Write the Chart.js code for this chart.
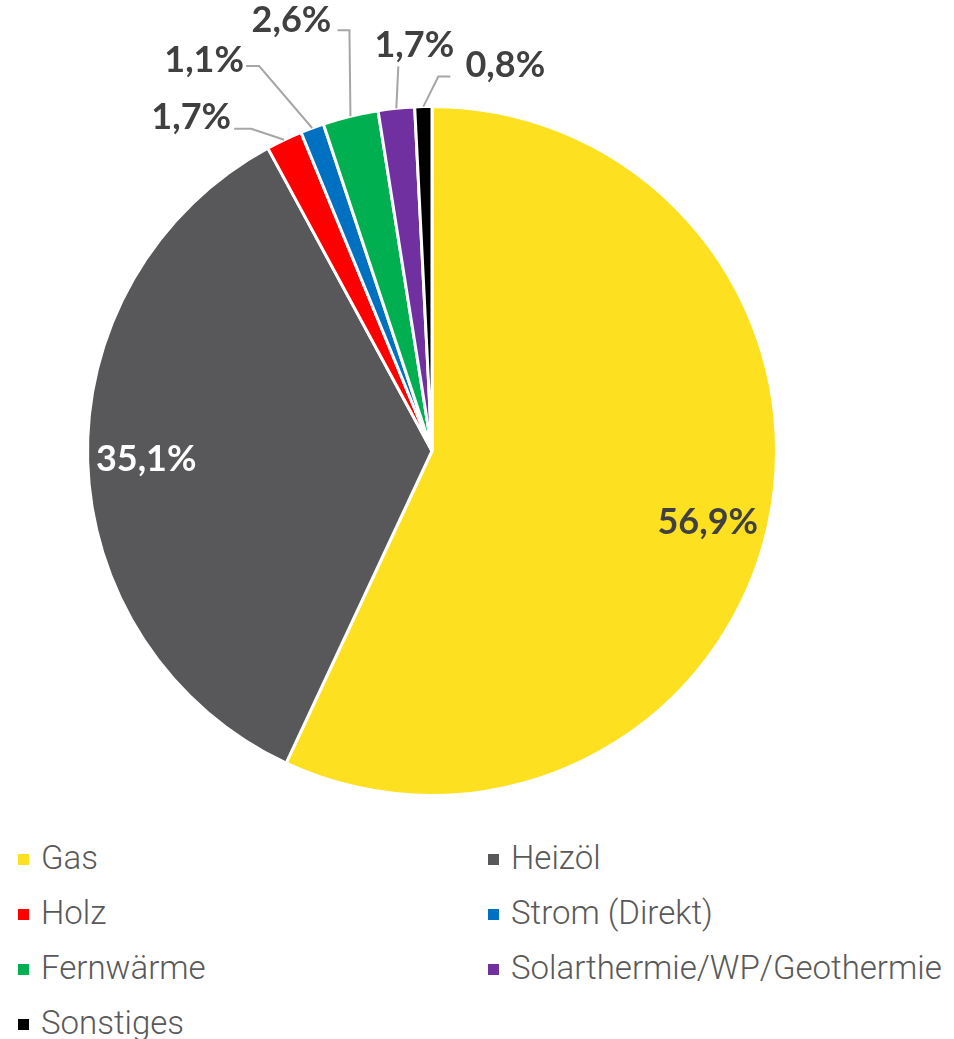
<!DOCTYPE html>
<html>
<head>
<meta charset="utf-8">
<script src="https://cdn.jsdelivr.net/npm/chart.js@4"></script>
<style>
  body { margin: 0; background: #fff; }
  #chart-box { position: absolute; left: 0; top: 0; width: 954px; height: 830px; }
  #legend { position: absolute; left: 0; top: 836px; width: 954px; font-family: "Roboto", sans-serif; font-weight: 300; font-size: 33px; color: #595959; }
  .item { position: absolute; height: 44px; line-height: 44px; white-space: nowrap; }
  .item span.box { display: inline-block; width: 11px; height: 11px; margin-right: 12px; vertical-align: middle; position: relative; top: -1px; }
</style>
</head>
<body>
<div id="chart-box"><canvas id="pie"></canvas></div>
<div id="legend"></div>
<script>
'use strict';

var categories = ['Gas', 'Heizöl', 'Holz', 'Strom (Direkt)', 'Fernwärme', 'Solarthermie/WP/Geothermie', 'Sonstiges'];
var shares = [56.9, 35.1, 1.7, 1.1, 2.6, 1.7, 0.8];
var sliceColors = ['#FDE01F', '#58585A', '#FF0000', '#0070C0', '#00B050', '#7030A0', '#000000'];

// where each value label goes: inside the slice or outside with a leader line
var labelPlacement = [
  { inside: true, frac: 0.82, dy: 10, color: '#404040' },
  { inside: true, frac: 0.83, dy: 0, color: '#ffffff' },
  { dx: -93, dy: -22, elbow: [-33, -11], end: [-50, -11] },
  { dx: -108, dy: -68, elbow: [-53, -62], end: [-66, -62] },
  { dx: -59, dy: -96, elbow: [-1, -86], end: [-13, -86] },
  { dx: 18, dy: -63, elbow: [2, -42], end: [2, -42] },
  { dx: 82, dy: -41, elbow: [15, -30], end: [27, -30] }
];

function formatShare(v) {
  return v.toFixed(1).replace('.', ',') + '%';
}

var pieLabels = {
  id: 'pieLabels',
  afterDatasetsDraw: function(chart) {
    var ctx = chart.ctx;
    var arcs = chart.getDatasetMeta(0).data;
    ctx.save();
    ctx.font = 'bold 36px Lato, "Noto Sans", sans-serif';
    ctx.textAlign = 'center';
    ctx.textBaseline = 'middle';
    for (var i = 0; i < arcs.length; i++) {
      var arc = arcs[i];
      var p = labelPlacement[i];
      var mid = (arc.startAngle + arc.endAngle) / 2;
      var text = formatShare(shares[i]);
      if (p.inside) {
        var r = arc.outerRadius * p.frac;
        ctx.fillStyle = p.color;
        ctx.fillText(text, arc.x + Math.cos(mid) * r, arc.y + Math.sin(mid) * r + p.dy);
      } else {
        var ex = arc.x + Math.cos(mid) * arc.outerRadius;
        var ey = arc.y + Math.sin(mid) * arc.outerRadius;
        ctx.strokeStyle = '#A6A6A6';
        ctx.lineWidth = 2;
        ctx.beginPath();
        ctx.moveTo(ex, ey);
        ctx.lineTo(ex + p.elbow[0], ey + p.elbow[1]);
        ctx.lineTo(ex + p.end[0], ey + p.end[1]);
        ctx.stroke();
        ctx.fillStyle = '#404040';
        ctx.fillText(text, ex + p.dx, ey + p.dy);
      }
    }
    ctx.restore();
  }
};

var pieChart = new Chart(document.getElementById('pie').getContext('2d'), {
  type: 'pie',
  data: {
    labels: categories,
    datasets: [{
      data: shares,
      backgroundColor: sliceColors,
      borderColor: '#ffffff',
      borderWidth: 3
    }]
  },
  options: {
    responsive: true,
    maintainAspectRatio: false,
    animation: false,
    layout: { padding: { left: 86, right: 176, top: 105, bottom: 33 } },
    plugins: {
      legend: { display: false },
      tooltip: { enabled: false }
    }
  },
  plugins: [pieLabels]
});

// legend in two columns, like the original
var legendEl = document.getElementById('legend');
for (var i = 0; i < categories.length; i++) {
  var item = document.createElement('div');
  item.className = 'item';
  item.style.left = (i % 2 === 0 ? 18 : 488) + 'px';
  item.style.top = (Math.floor(i / 2) * 55) + 'px';
  var box = document.createElement('span');
  box.className = 'box';
  box.style.background = sliceColors[i];
  item.appendChild(box);
  item.appendChild(document.createTextNode(categories[i]));
  legendEl.appendChild(item);
}
</script>
</body>
</html>
